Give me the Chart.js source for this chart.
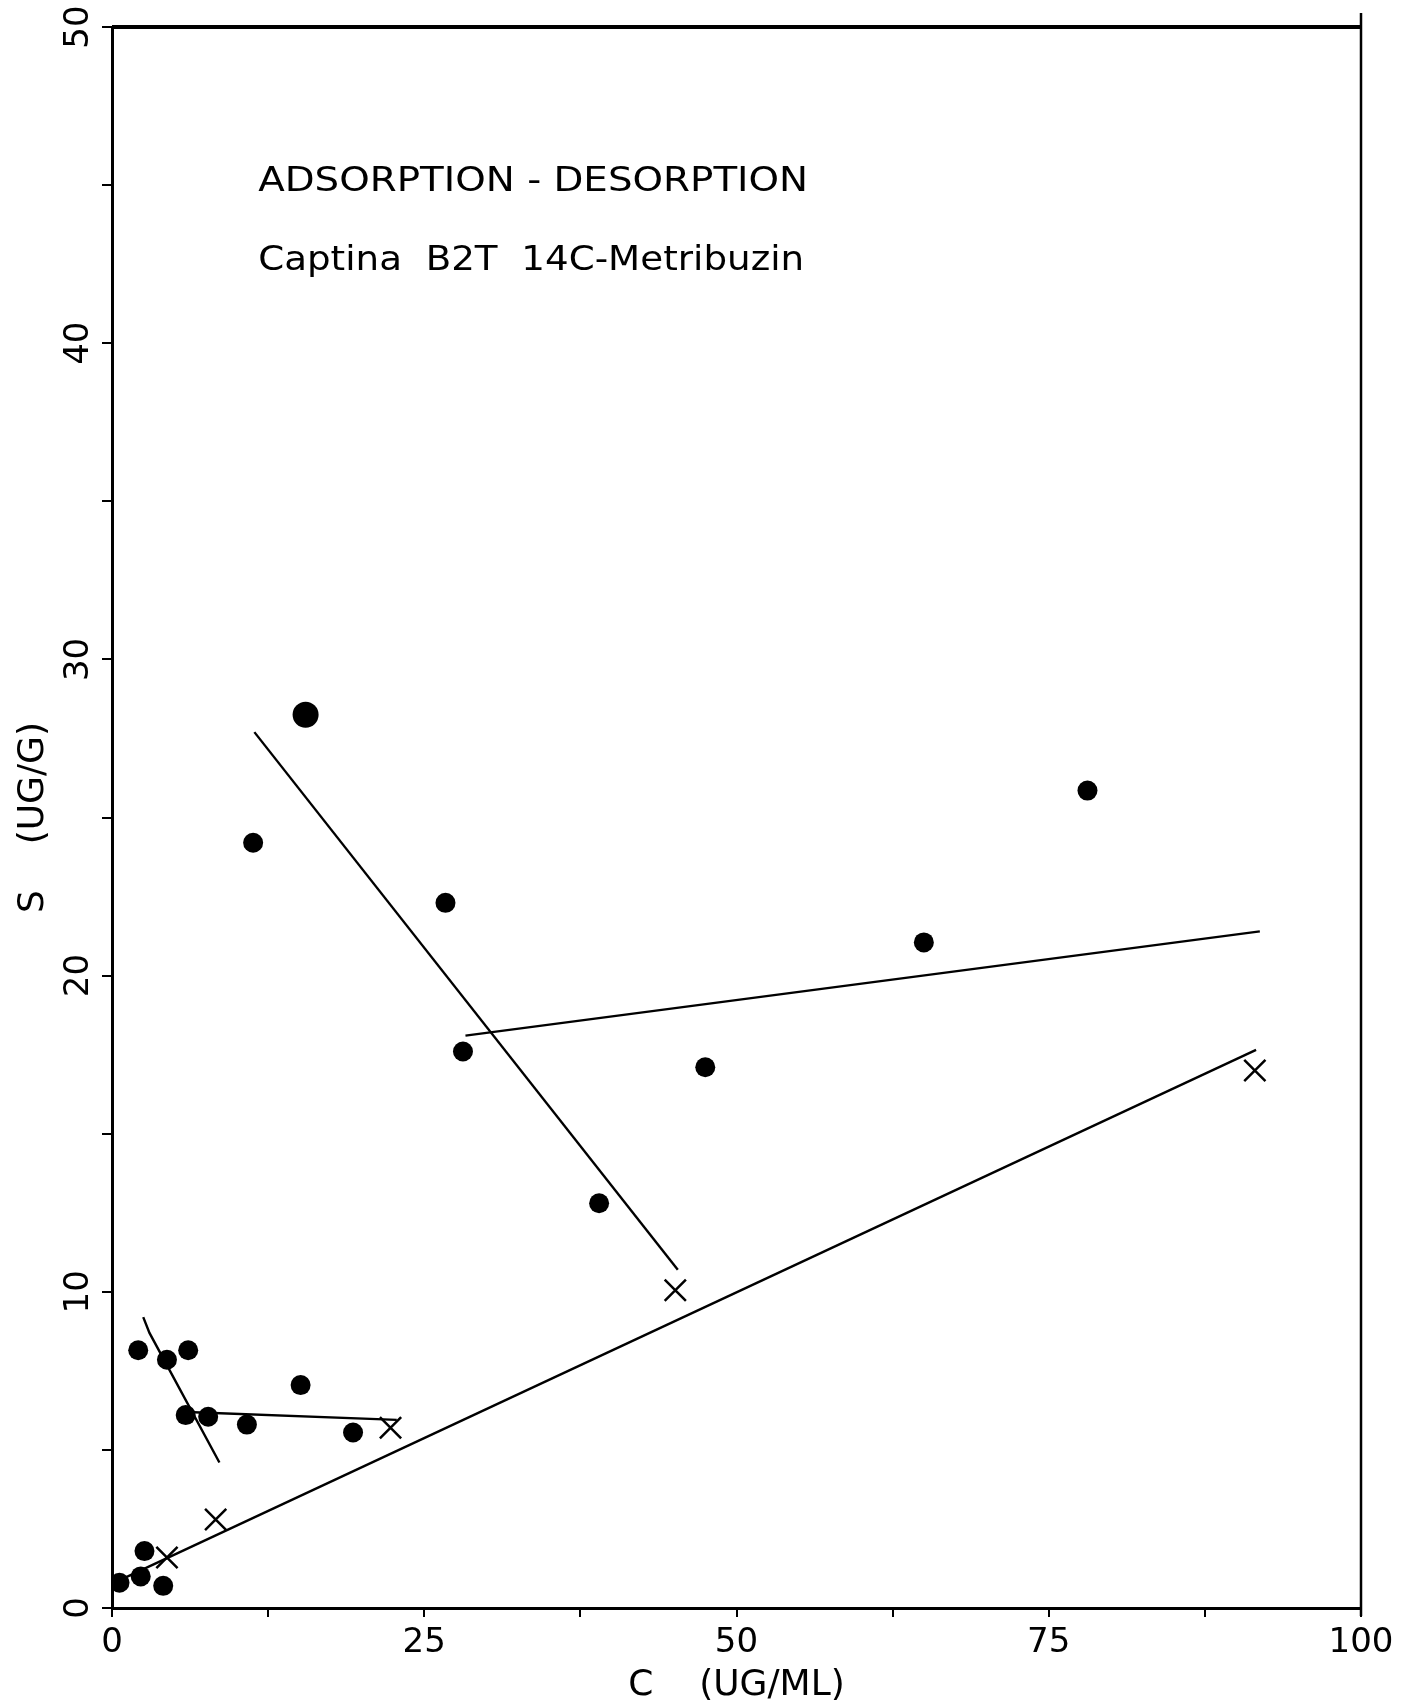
<!DOCTYPE html>
<html>
<head>
<meta charset="utf-8">
<script src="https://cdn.jsdelivr.net/npm/chart.js@4.4.1/dist/chart.umd.min.js"></script>
<style>
    html, body { margin: 0; padding: 0; background: #ffffff; }
    canvas { display: block; }
</style>
</head>
<body>
<canvas id="isothermChart" width="1424" height="1708"></canvas>
<script>
// adsorption / desorption measurements (filled dots)
const dotC = [15.5, 11.3, 26.7, 78.1, 65.0, 28.1, 47.5, 39.0, 2.1, 4.4, 6.1, 15.1, 5.9, 7.7, 10.8, 19.3, 2.6, 2.3, 0.6, 4.1];
const dotS = [28.25, 24.2, 22.3, 25.85, 21.05, 17.6, 17.1, 12.8, 8.15, 7.85, 8.15, 7.05, 6.1, 6.05, 5.8, 5.55, 1.8, 1.0, 0.8, 0.7];
const dotSize = [13, 10, 10, 10, 10, 10, 10, 10, 10, 10, 10, 10, 10, 10, 10, 10, 10, 10, 10, 10];

// end points of the desorption runs (crosses)
const crossC = [4.4, 8.3, 22.3, 45.1, 91.5];
const crossS = [1.6, 2.8, 5.7, 10.05, 17.0];

// hand drawn fit lines
const fitAllC = [0.2, 91.6];
const fitAllS = [0.8, 17.65];
const fitHighC = [11.4, 45.3];
const fitHighS = [27.7, 10.7];
const fitMidC = [28.3, 91.9];
const fitMidS = [18.1, 21.4];
const fitLowC = [2.5, 3.0, 8.6];
const fitLowS = [9.2, 8.7, 4.6];
const fitFlatC = [6.0, 22.8];
const fitFlatS = [6.2, 5.95];

// axis ticks and captions
const yTickLabels = [0, 10, 20, 30, 40, 50];
const noteLines = ['ADSORPTION - DESORPTION', 'Captina  B2T  14C-Metribuzin'];
const noteC = 11.7;
const noteS = [45.1, 42.6];

const FONT = "'DejaVu Sans', sans-serif";

function toPoints(xs, ys) {
    return xs.map(function (x, i) { return { x: x, y: ys[i] }; });
}

function fitLine(xs, ys) {
    return {
        type: 'line',
        data: toPoints(xs, ys),
        borderColor: '#000000',
        borderWidth: 2.4,
        pointRadius: 0,
        fill: false,
        tension: 0
    };
}

const textPlugin = {
    id: 'plotterText',
    afterDraw: function (chart) {
        const ctx = chart.ctx;
        const xs = chart.scales.x;
        const ys = chart.scales.y;

        // y tick labels, rotated like the plotter output
        ctx.save();
        ctx.fillStyle = '#000000';
        ctx.font = '34px ' + FONT;
        ctx.textAlign = 'center';
        ctx.textBaseline = 'middle';
        yTickLabels.forEach(function (v) {
            ctx.save();
            ctx.translate(79, ys.getPixelForValue(v));
            ctx.rotate(-Math.PI / 2);
            ctx.fillText(String(v), 0, 0);
            ctx.restore();
        });
        ctx.restore();

        // caption inside the plot
        const widths = [550, 546];
        ctx.save();
        ctx.fillStyle = '#000000';
        ctx.font = '33px ' + FONT;
        ctx.textAlign = 'left';
        ctx.textBaseline = 'middle';
        noteLines.forEach(function (txt, i) {
            const px = xs.getPixelForValue(noteC);
            const py = ys.getPixelForValue(noteS[i]);
            const w = ctx.measureText(txt).width;
            ctx.save();
            ctx.translate(px, py);
            ctx.scale(widths[i] / w, 1);
            ctx.fillText(txt, 0, 0);
            ctx.restore();
        });
        ctx.restore();

        // top and right frame
        const a = chart.chartArea;
        ctx.save();
        ctx.strokeStyle = '#000000';
        ctx.lineWidth = 4;
        ctx.beginPath();
        ctx.moveTo(a.left, a.top);
        ctx.lineTo(a.right, a.top);
        ctx.stroke();
        ctx.lineWidth = 2.5;
        ctx.beginPath();
        ctx.moveTo(a.right, a.top - 14);
        ctx.lineTo(a.right, a.bottom + 8);
        ctx.stroke();
        ctx.restore();
    }
};

new Chart(document.getElementById('isothermChart'), {
    type: 'scatter',
    data: {
        datasets: [
            {
                label: 'S',
                data: toPoints(dotC, dotS),
                pointStyle: 'circle',
                pointRadius: dotSize,
                backgroundColor: '#000000',
                borderColor: '#000000',
                borderWidth: 0
            },
            {
                label: 'desorbed',
                data: toPoints(crossC, crossS),
                pointStyle: 'crossRot',
                pointRadius: 15,
                borderColor: '#000000',
                borderWidth: 2.5
            },
            fitLine(fitAllC, fitAllS),
            fitLine(fitHighC, fitHighS),
            fitLine(fitMidC, fitMidS),
            fitLine(fitLowC, fitLowS),
            fitLine(fitFlatC, fitFlatS)
        ]
    },
    options: {
        responsive: false,
        animation: false,
        devicePixelRatio: 1,
        layout: {
            padding: { top: 27, right: 63, left: 0, bottom: 0 }
        },
        scales: {
            x: {
                type: 'linear',
                min: 0,
                max: 100,
                afterFit: function (scale) { scale.height = 100; },
                border: { color: '#000000', width: 3 },
                grid: { drawOnChartArea: false, drawTicks: true, tickLength: 9, color: '#000000', lineWidth: 2 },
                ticks: {
                    stepSize: 12.5,
                    autoSkip: false,
                    maxRotation: 0,
                    color: '#000000',
                    padding: 6,
                    font: { family: FONT, size: 34 },
                    callback: function (v) { return v % 25 === 0 ? String(v) : ''; }
                },
                title: {
                    display: true,
                    text: 'C    (UG/ML)',
                    color: '#000000',
                    font: { family: FONT, size: 36 },
                    padding: { top: 0, bottom: 1 }
                }
            },
            y: {
                type: 'linear',
                min: 0,
                max: 50,
                afterFit: function (scale) { scale.width = 112; },
                border: { color: '#000000', width: 3 },
                grid: { drawOnChartArea: false, drawTicks: true, tickLength: 10, color: '#000000', lineWidth: 2 },
                ticks: {
                    stepSize: 5,
                    color: '#000000',
                    font: { family: FONT, size: 34 },
                    callback: function () { return ''; }
                },
                title: {
                    display: true,
                    text: 'S    (UG/G)',
                    color: '#000000',
                    font: { family: FONT, size: 36 },
                    padding: { top: 12, bottom: 0 }
                }
            }
        },
        plugins: {
            legend: { display: false },
            tooltip: { enabled: false }
        }
    },
    plugins: [textPlugin]
});
</script>
</body>
</html>
